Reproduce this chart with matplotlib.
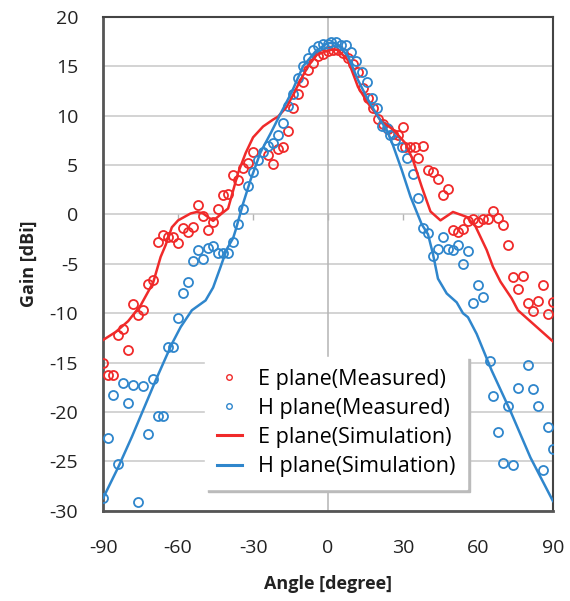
import matplotlib
matplotlib.use('Agg')
import matplotlib.pyplot as plt
from matplotlib.lines import Line2D

plt.rcParams['font.family'] = ['Open Sans', 'DejaVu Sans']
plt.rcParams['axes.unicode_minus'] = False

# E plane measured (angle deg, gain dBi)
e_meas_ang = [-90, -88, -86, -84, -82, -80, -78, -76, -74, -72, -70, -68, -66, -64, -62,
              -60, -58, -56, -54, -52, -50, -48, -46, -44, -42, -40, -38, -36, -34, -32,
              -30, -24, -22, -20, -18, -16, -14, -12, -10, -8, -6, -4, -2, 0, 2, 4, 6, 8,
              10, 12, 14, 16, 18, 20, 22, 24, 26, 28, 30, 31, 33, 35, 36, 38, 40, 42, 44,
              46, 48, 50, 52, 54, 56, 58, 60, 62, 64, 66, 68, 70, 72, 74, 76, 78, 80, 82,
              84, 86, 88, 90]
e_meas_gain = [-15.0, -16.3, -16.3, -12.2, -11.6, -13.7, -9.1, -10.2, -9.7, -7.0, -6.6,
               -2.8, -2.1, -2.3, -2.3, -2.9, -1.4, -1.8, -1.3, 1.0, -0.2, -1.6, -0.8, 0.6,
               1.95, 2.1, 4.0, 3.5, 4.7, 5.2, 6.3, 6.0, 5.1, 6.6, 6.8, 8.4, 10.8, 12.2,
               13.4, 14.6, 15.3, 16.0, 16.2, 16.5, 16.6, 16.6, 16.3, 15.8, 15.2, 14.4,
               12.8, 11.8, 10.8, 9.7, 9.15, 8.6, 8.1, 8.0, 8.9, 6.8, 6.85, 6.85, 5.7, 6.9,
               4.5, 4.3, 3.6, 2.0, 2.6, -1.6, -1.8, -1.5, -0.7, -0.5, -0.75, -0.5, -0.5,
               0.35, -0.4, -1.1, -3.1, -6.3, -7.5, -6.2, -9.0, -9.8, -8.8, -7.1, -10.1,
               -8.9]

# H plane measured
h_meas_ang = [-90, -88, -86, -84, -82, -80, -78, -76, -74, -72, -70, -68, -66, -64, -62,
              -60, -58, -56, -54, -52, -50, -48, -46, -44, -42, -40, -38, -36, -34, -32,
              -30, -28, -26, -24, -22, -20, -18, -16, -14, -12, -10, -8, -6, -4, -2, 0,
              1, 3, 5, 7, 9, 11, 13.5, 15.5, 17.5, 19.5, 21.5, 23.5, 25, 27, 29.5, 31.5,
              34, 36, 38, 40, 42, 44, 46, 48, 50, 52, 54, 56, 58, 60, 62, 65, 66, 68, 70,
              72, 74, 76, 80, 82, 84, 86, 88, 90]
h_meas_gain = [-28.7, -22.6, -18.3, -25.3, -17.1, -19.1, -17.3, -29.1, -17.4, -22.2,
               -16.7, -20.4, -20.4, -13.4, -13.4, -10.45, -8.0, -6.85, -4.7, -3.6, -4.5,
               -3.4, -3.2, -3.9, -3.9, -3.9, -2.8, -1.0, 0.55, 2.85, 4.25, 5.5, 6.35, 6.9,
               7.2, 8.0, 9.25, 11.0, 12.2, 13.8, 15.0, 15.8, 16.6, 17.0, 17.2, 17.3, 17.5,
               17.5, 17.1, 17.1, 16.4, 15.5, 14.45, 13.4, 11.8, 10.8, 8.95, 8.7, 8.0, 7.5,
               6.85, 5.7, 4.1, 1.7, -1.4, -1.9, -4.2, -3.5, -2.3, -3.45, -3.55, -3.05,
               -5.0, -3.7, -9.0, -7.1, -8.4, -14.8, -18.4, -22.0, -25.2, -19.4, -25.4,
               -17.6, -15.2, -17.7, -19.4, -25.9, -21.55, -23.7]

# E plane simulation
e_sim_ang = [-90, -85, -80, -75, -70, -67, -65, -62.5, -60, -55, -52.5, -50, -46, -43,
             -40, -38, -36, -33, -30, -26, -22, -20, -16.5, -14, -11, -8, -4.5, -1, 2, 4,
             8, 12, 16, 21.5, 26, 31, 34, 37.5, 41, 45, 50, 55.5, 59, 63.5, 66, 69, 73.5,
             76, 80, 84, 90]
e_sim_gain = [-12.7, -11.9, -10.8, -9.2, -6.9, -4.3, -3.1, -1.3, -0.6, 0.1, 0.25, 0.1,
              -0.65, 0.0, 0.6, 2.4, 4.2, 6.2, 7.8, 8.9, 9.6, 9.9, 10.9, 12.1, 13.6, 15.0,
              16.15, 16.5, 16.7, 16.65, 15.6, 12.9, 11.25, 9.4, 8.6, 7.2, 5.5, 2.8, 0.3,
              -0.6, 0.25, -0.25, -1.2, -3.6, -5.3, -6.8, -8.5, -9.7, -10.6, -11.5, -12.85]

# H plane simulation
h_sim_ang = [-90, -84, -78.5, -73, -69, -65.5, -62.5, -59, -54.5, -49, -46, -43, -40.5,
             -38, -37, -34, -31, -27, -23, -19, -14.5, -10, -5, -0.5, 2, 4, 8, 12, 16, 20,
             23.5, 26, 29.5, 33, 37.5, 40, 42, 44, 47.5, 51.5, 54, 56, 59.5, 65.5, 73, 81,
             90]
h_sim_gain = [-28.7, -25.6, -22.5, -19.2, -16.8, -14.8, -13.1, -11.4, -9.7, -8.7, -7.4,
              -5.3, -3.5, -2.4, -1.6, 1.1, 3.5, 6.3, 8.2, 10.2, 12.4, 15.0, 16.5, 17.3,
              17.4, 17.2, 16.0, 13.6, 11.6, 9.9, 8.55, 7.0, 4.5, 1.8, -1.0, -2.0, -4.0,
              -6.5, -8.0, -8.9, -10.0, -10.4, -12.1, -15.8, -19.9, -24.6, -29.0]

x_ticks = [-90, -60, -30, 0, 30, 60, 90]
y_ticks = [-30, -25, -20, -15, -10, -5, 0, 5, 10, 15, 20]

red = '#f02a2a'
blue = '#2f86cc'

fig = plt.figure(figsize=(5.7, 6.01), dpi=100)
ax = fig.add_axes([0.181, 0.150, 0.789, 0.822])

for y in y_ticks:
    ax.axhline(y, color='#c8c8c8', lw=1.1, zorder=0)
ax.axvline(0, color='#b4b4b4', lw=1.1, zorder=0)
# tick marks along the zero line
ax.vlines(x_ticks, -0.6, 0, color='#b4b4b4', lw=1.0, zorder=0)

ax.plot(e_meas_ang, e_meas_gain, 'o', mfc='none', mec=red, ms=6.5, mew=1.3, zorder=3)
ax.plot(h_meas_ang, h_meas_gain, 'o', mfc='none', mec=blue, ms=6.5, mew=1.3, zorder=3)
ax.plot(e_sim_ang, e_sim_gain, '-', color=red, lw=1.8, zorder=4)
ax.plot(h_sim_ang, h_sim_gain, '-', color=blue, lw=1.8, zorder=4)

ax.set_xlim(-90, 90)
ax.set_ylim(-30, 20)
ax.set_xticks(x_ticks)
ax.set_yticks(y_ticks)
ax.tick_params(axis='x', length=0, pad=20, labelsize=14, colors='#222222')
ax.tick_params(axis='y', length=0, pad=18, labelsize=14, colors='#222222')
for side in ['left', 'bottom']:
    ax.spines[side].set_color('#555555')
    ax.spines[side].set_linewidth(2.0)
for side in ['top', 'right']:
    ax.spines[side].set_color('#444444')
    ax.spines[side].set_linewidth(1.5)

ax.set_xlabel('Angle [degree]', fontsize=13, fontweight='bold', labelpad=13, color='#222222')
ax.set_ylabel('Gain [dBi]', fontsize=13, fontweight='bold', labelpad=8, color='#222222')

handles = [
    Line2D([], [], ls='none', marker='o', mfc='none', mec=red, ms=4, mew=1.0),
    Line2D([], [], ls='none', marker='o', mfc='none', mec=blue, ms=4, mew=1.0),
    Line2D([], [], color=red, lw=2.2),
    Line2D([], [], color=blue, lw=2.2),
]
labels = ['E plane(Measured)', 'H plane(Measured)', 'E plane(Simulation)', 'H plane(Simulation)']
leg = ax.legend(handles, labels, loc='upper left', bbox_to_anchor=(0.227, 0.312),
                fontsize=15.5, frameon=True, fancybox=False,
                shadow={'color': '#bbbbbb', 'alpha': 1},
                handlelength=1.15, handletextpad=0.75, labelspacing=0.38,
                borderpad=0.55, borderaxespad=0, framealpha=1)
leg.get_frame().set_edgecolor('white')
leg.set_zorder(5)

fig.savefig('out.png', dpi=100)
